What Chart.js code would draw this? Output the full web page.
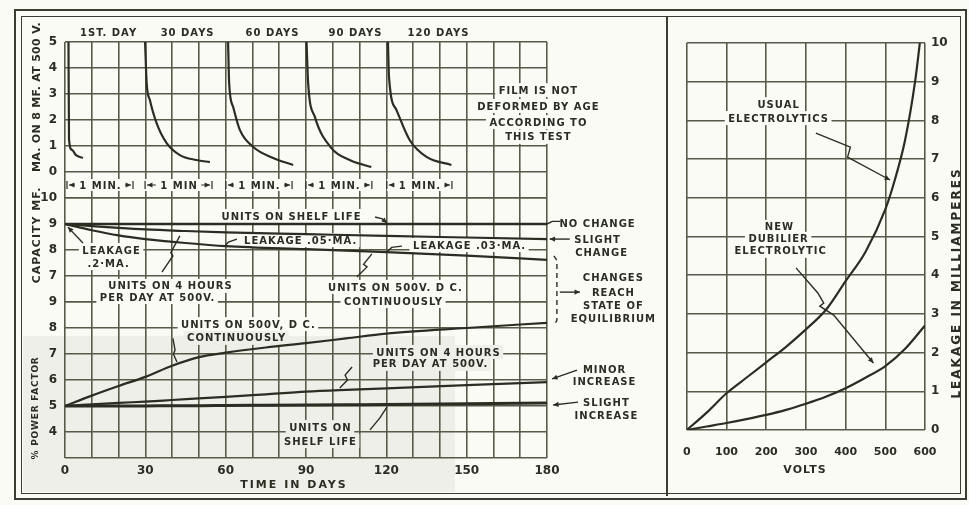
<!DOCTYPE html>
<html>
<head>
<meta charset="utf-8">
<script src="https://cdn.jsdelivr.net/npm/chart.js@4.4.1/dist/chart.umd.min.js"></script>
<style>
  body { margin: 0; background: #fbfbf6; }
  #wrap { position: relative; width: 969px; height: 505px; overflow: hidden; }
  canvas { position: absolute; top: 0; }
  #left { left: 0; }
  #right { left: 667px; }
  .rule { position: absolute; border: 0 solid #3b3d30; }
</style>
</head>
<body>
<div id="wrap">
  <div class="rule" style="left:14px;top:9px;width:949px;height:487px;border-width:2px;"></div>
  <div class="rule" style="left:21px;top:16px;width:938px;height:476px;border-width:1px;"></div>
  <div class="rule" style="left:666px;top:16px;height:480px;border-left-width:2px;"></div>
  <canvas id="left" width="667" height="505"></canvas>
  <canvas id="right" width="302" height="505"></canvas>
</div>
<script>
const ink = '#2b2d22';
const gridInk = '#585b49';
const paper = '#fbfbf6';
const shade = '#efefe9';

// leakage after switching on, one curve per test date (days / mA)
const leak1X = [1.3, 1.5, 2.6, 4.1, 6.7];
const leak1Y = [5, 1.25, 0.85, 0.65, 0.54];
const leak30X = [29.9, 30.5, 31.7, 34.2, 37.9, 42.9, 49.1, 54.1];
const leak30Y = [5, 3.42, 2.77, 1.88, 1.12, 0.65, 0.46, 0.38];
const leak60X = [60.9, 61.3, 62.8, 65.3, 70.3, 77.7, 85.2];
const leak60Y = [5, 3.42, 2.5, 1.62, 0.96, 0.54, 0.27];
const leak90X = [90.2, 90.8, 93.3, 99.5, 106.3, 114.4];
const leak90Y = [5, 3.42, 2.12, 0.92, 0.46, 0.19];
const leak120X = [120.6, 121.0, 123.8, 128.7, 135.0, 144.3];
const leak120Y = [5, 3.65, 2.38, 1.23, 0.58, 0.27];

// capacity (mF)
const capDays = [0, 5, 10, 20, 30, 45, 60, 90, 120, 150, 180];
const capShelf = [9, 9, 9, 9, 9, 9, 9, 9, 9, 9, 9];
const capFourHours = [9, 8.96, 8.92, 8.85, 8.79, 8.73, 8.68, 8.61, 8.54, 8.48, 8.42];
const capContinuous = [9, 8.88, 8.76, 8.56, 8.42, 8.27, 8.15, 8.03, 7.92, 7.78, 7.62];

// power factor (%)
const pfDays = [0, 10, 20, 30, 40, 50, 60, 75, 90, 105, 120, 150, 180];
const pfContinuous = [5, 5.4, 5.77, 6.12, 6.55, 6.88, 7.05, 7.25, 7.42, 7.6, 7.78, 8.0, 8.2];
const pfFourHours = [5, 5.06, 5.12, 5.17, 5.23, 5.29, 5.35, 5.45, 5.55, 5.62, 5.68, 5.8, 5.92];
const pfShelf = [5, 5, 5, 5, 5.01, 5.01, 5.02, 5.03, 5.04, 5.05, 5.06, 5.09, 5.12];

// leakage against voltage
const usualVolts = [0, 50, 100, 150, 200, 250, 300, 350, 400, 450, 500, 525, 550, 575, 587];
const usualLeak = [0, 0.45, 0.95, 1.35, 1.75, 2.15, 2.6, 3.1, 3.85, 4.6, 5.7, 6.5, 7.5, 9.0, 10];
const dubilierVolts = [0, 50, 100, 150, 200, 250, 300, 350, 400, 450, 500, 550, 600];
const dubilierLeak = [0, 0.09, 0.18, 0.28, 0.39, 0.52, 0.68, 0.86, 1.08, 1.35, 1.65, 2.1, 2.7];

// annotations: text, x, y, axis
const leftNotes = [
  ['1ST. DAY', 16.1, 5.38, 'yLeak'], ['30 DAYS', 45.6, 5.38, 'yLeak'], ['60 DAYS', 77.3, 5.38, 'yLeak'],
  ['90 DAYS', 108.3, 5.38, 'yLeak'], ['120 DAYS', 139.3, 5.38, 'yLeak'],
  ['FILM IS NOT', 176.6, 3.15, 'yLeak'], ['DEFORMED BY AGE', 176.6, 2.54, 'yLeak'],
  ['ACCORDING TO', 176.6, 1.92, 'yLeak'], ['THIS TEST', 176.6, 1.35, 'yLeak'],
  ['UNITS ON SHELF LIFE', 84.4, 9.31, 'yCap'],
  ['LEAKAGE .05·MA.', 87.8, 8.38, 'yCap'],
  ['LEAKAGE .03·MA.', 150.9, 8.19, 'yCap'],
  ['LEAKAGE', 17.2, 8.0, 'yCap'], ['.2·MA.', 16.1, 7.5, 'yCap'],
  ['UNITS ON 4 HOURS', 39.2, 6.62, 'yCap'], ['PER DAY AT 500V.', 34.4, 6.19, 'yCap'],
  ['UNITS ON 500V. D C.', 123.2, 6.58, 'yCap'], ['CONTINUOUSLY', 122.5, 6.04, 'yCap'],
  ['NO CHANGE', 198.7, 9.04, 'yCap'],
  ['SLIGHT', 198.7, 8.42, 'yCap'], ['CHANGE', 200.2, 7.92, 'yCap'],
  ['CHANGES', 204.6, 6.96, 'yCap'], ['REACH', 204.6, 6.38, 'yCap'],
  ['STATE OF', 204.6, 5.88, 'yCap'], ['EQUILIBRIUM', 204.6, 5.38, 'yCap'],
  ['UNITS ON 500V, D C.', 68.3, 8.15, 'yPf'], ['CONTINUOUSLY', 63.9, 7.62, 'yPf'],
  ['UNITS ON 4 HOURS', 139.3, 7.08, 'yPf'], ['PER DAY AT 500V.', 136.3, 6.62, 'yPf'],
  ['UNITS ON', 95.2, 4.19, 'yPf'], ['SHELF LIFE', 95.2, 3.65, 'yPf'],
  ['MINOR', 201.3, 6.42, 'yPf'], ['INCREASE', 201.3, 5.96, 'yPf'],
  ['SLIGHT', 202, 5.15, 'yPf'], ['INCREASE', 202, 4.62, 'yPf']
];
const minuteSpans = [[0.75, 25.4, '1 MIN.'], [29.9, 54.9, '1 MIN'], [60.1, 84.8, '1 MIN.'], [90, 114.6, '1 MIN.'], [120.2, 144.5, '1 MIN.']];
const leftLeaders = [
  [[[115.8, 9.27], [118.5, 9.2], [120.2, 9.04]], 'yCap', true],
  [[[64.2, 8.42], [61, 8.3], [59.7, 8.15]], 'yCap', false],
  [[[125.8, 8.15], [122, 8.1], [120.2, 7.92]], 'yCap', false],
  [[[6.7, 8.27], [1.1, 8.88]], 'yCap', true],
  [[[36.2, 7.15], [40.3, 7.77], [39.5, 7.9], [42.9, 8.54]], 'yCap', false],
  [[[109, 6.96], [112.8, 7.35], [111.5, 7.45], [114.6, 7.85]], 'yCap', false],
  [[[180, 9], [182, 9.1], [185, 9.1]], 'yCap', false],
  [[[188.5, 8.42], [181, 8.42]], 'yCap', true],
  [[[184.8, 6.38], [192.3, 6.38]], 'yCap', true],
  [[[40.3, 7.6], [41.1, 7.15], [40.5, 7.0], [41.8, 6.69]], 'yPf', false],
  [[[107.2, 6.5], [104.6, 6.19], [105.5, 6.0], [102.6, 5.69]], 'yPf', false],
  [[[113.9, 4.08], [117.6, 4.54], [120.2, 4.96]], 'yPf', false],
  [[[191.2, 6.38], [181.9, 6.04]], 'yPf', true],
  [[[191.6, 5.15], [182.3, 5.04]], 'yPf', true]
];
const rightNotes = [
  ['USUAL', 230, 8.42, 'y'], ['ELECTROLYTICS', 230, 8.06, 'y'],
  ['NEW', 232, 5.25, 'y'], ['DUBILIER', 230, 4.94, 'y'], ['ELECTROLYTIC', 235, 4.63, 'y']
];
const rightLeaders = [
  [[[325, 7.67], [412, 7.31], [405, 7.05], [512, 6.46]], 'y', true],
  [[[275, 4.19], [330, 3.54], [345, 3.28], [335, 3.2], [370, 2.97], [470, 1.73]], 'y', true]
];

function pts(xs, ys) { return xs.map((x, i) => ({ x, y: ys[i] })); }
function curve(xs, ys, axis, width) {
  return {
    data: pts(xs, ys), yAxisID: axis, showLine: true, borderColor: ink,
    borderWidth: width || 2.2, pointRadius: 0, fill: false, cubicInterpolationMode: 'monotone'
  };
}

function noteFont(ctx) {
  ctx.font = 'bold 10px "DejaVu Sans"';
  ctx.letterSpacing = '1px';
  ctx.textBaseline = 'middle';
  ctx.textAlign = 'center';
}

function drawNotes(chart, notes, shaded) {
  const ctx = chart.ctx;
  ctx.save();
  noteFont(ctx);
  const placed = notes.map(([t, x, y, ax]) => {
    const px = chart.scales.x.getPixelForValue(x);
    const py = chart.scales[ax].getPixelForValue(y);
    return [t, px, py, ctx.measureText(t).width];
  });
  placed.forEach(([t, px, py, w]) => {
    ctx.fillStyle = shaded && shaded(px, py) ? shade : paper;
    ctx.fillRect(px - w / 2 - 3, py - 7, w + 6, 14);
  });
  ctx.fillStyle = ink;
  placed.forEach(([t, px, py]) => ctx.fillText(t, px + 0.5, py + 1));
  ctx.restore();
}

function arrowHead(ctx, x0, y0, x1, y1) {
  const a = Math.atan2(y1 - y0, x1 - x0);
  ctx.beginPath();
  ctx.moveTo(x1, y1);
  ctx.lineTo(x1 - 6 * Math.cos(a - 0.45), y1 - 6 * Math.sin(a - 0.45));
  ctx.lineTo(x1 - 6 * Math.cos(a + 0.45), y1 - 6 * Math.sin(a + 0.45));
  ctx.closePath();
  ctx.fill();
}

function drawLeaders(chart, leaders) {
  const ctx = chart.ctx;
  ctx.save();
  ctx.strokeStyle = ink;
  ctx.fillStyle = ink;
  ctx.lineWidth = 1.4;
  leaders.forEach(([list, ax, arrow]) => {
    const p = list.map(([x, y]) => [chart.scales.x.getPixelForValue(x), chart.scales[ax].getPixelForValue(y)]);
    ctx.beginPath();
    p.forEach(([x, y], i) => i ? ctx.lineTo(x, y) : ctx.moveTo(x, y));
    ctx.stroke();
    if (arrow) {
      const n = p.length;
      arrowHead(ctx, p[n - 2][0], p[n - 2][1], p[n - 1][0], p[n - 1][1]);
    }
  });
  ctx.restore();
}

function title(ctx, text, x, y, size, spacing, rotate) {
  ctx.save();
  ctx.translate(x, y);
  if (rotate) ctx.rotate(-Math.PI / 2);
  ctx.font = 'bold ' + size + 'px "DejaVu Sans"';
  ctx.letterSpacing = spacing + 'px';
  ctx.fillStyle = ink;
  ctx.textAlign = 'center';
  ctx.textBaseline = 'middle';
  ctx.fillText(text, 0, 0);
  ctx.restore();
}

const inShade = (px, py) => px < 455 && py > 336;

const leftPlugin = {
  id: 'leftNotes',
  beforeDraw(chart) {
    const ctx = chart.ctx;
    ctx.save();
    ctx.fillStyle = shade;
    ctx.fillRect(23, 336, 432, 156);
    ctx.restore();
  },
  beforeDatasetsDraw(chart) {
    const ctx = chart.ctx;
    const xs = chart.scales.x;
    const yy = chart.scales.yLeak.getPixelForValue(-0.5);
    ctx.save();
    noteFont(ctx);
    minuteSpans.forEach(([a, b, t]) => {
      const x0 = xs.getPixelForValue(a), x1 = xs.getPixelForValue(b);
      const cx = (x0 + x1) / 2;
      const w = ctx.measureText(t).width;
      ctx.fillStyle = paper;
      ctx.fillRect(x0, yy - 6, x1 - x0, 12);
      ctx.fillStyle = ink;
      ctx.fillText(t, cx + 0.5, yy + 1);
      ctx.strokeStyle = ink;
      ctx.lineWidth = 1.2;
      ctx.beginPath();
      ctx.moveTo(cx - w / 2 - 4, yy); ctx.lineTo(x0 + 2, yy);
      ctx.moveTo(cx + w / 2 + 4, yy); ctx.lineTo(x1 - 2, yy);
      ctx.moveTo(x0, yy - 4); ctx.lineTo(x0, yy + 4);
      ctx.moveTo(x1, yy - 4); ctx.lineTo(x1, yy + 4);
      ctx.stroke();
      arrowHead(ctx, x0 + 10, yy, x0 + 2, yy);
      arrowHead(ctx, x1 - 10, yy, x1 - 2, yy);
    });
    ctx.restore();
    drawNotes(chart, leftNotes, inShade);
  },
  afterDatasetsDraw(chart) {
    drawLeaders(chart, leftLeaders);
    const ctx = chart.ctx;
    const xs = chart.scales.x;
    const cap = chart.scales.yCap;
    ctx.save();
    ctx.strokeStyle = ink;
    ctx.lineWidth = 1.4;
    ctx.setLineDash([5, 4]);
    const bx = xs.getPixelForValue(183.7);
    ctx.beginPath();
    ctx.moveTo(bx - 3, cap.getPixelForValue(7.77));
    ctx.lineTo(bx, cap.getPixelForValue(7.6));
    ctx.lineTo(bx, cap.getPixelForValue(5.3));
    ctx.lineTo(bx - 3, cap.getPixelForValue(5.08));
    ctx.stroke();
    ctx.restore();
    title(ctx, 'MA. ON 8 MF. AT 500 V.', 37, 97, 11, 0.3, true);
    title(ctx, 'CAPACITY MF.', 37, 235, 11, 1, true);
    title(ctx, '% POWER FACTOR', 36, 408, 9, 0.8, true);
    title(ctx, 'TIME IN DAYS', 294, 485, 11, 2, false);
  }
};

const rightPlugin = {
  id: 'rightNotes',
  beforeDatasetsDraw(chart) { drawNotes(chart, rightNotes); },
  afterDatasetsDraw(chart) {
    drawLeaders(chart, rightLeaders);
    const ctx = chart.ctx;
    title(ctx, 'VOLTS', 138, 470, 11, 1, false);
    title(ctx, 'LEAKAGE IN MILLIAMPERES', 290, 283, 12, 2, true);
  }
};

const tickFont = { family: '"DejaVu Sans"', size: 12, weight: 'bold' };
const gridOpts = { color: gridInk, lineWidth: 1.6, drawTicks: false };

function yAxis(min, max, weight, hide) {
  return {
    type: 'linear', position: 'left', stack: 'left', stackWeight: weight,
    min, max, grid: gridOpts, border: { display: false },
    ticks: {
      stepSize: 1, autoSkip: false, color: ink, font: tickFont, padding: 8,
      callback: v => (v === hide ? '' : v)
    },
    afterFit: s => { s.width = 45; }
  };
}

new Chart(document.getElementById('left'), {
  type: 'scatter',
  data: {
    datasets: [
      curve(leak1X, leak1Y, 'yLeak'),
      curve(leak30X, leak30Y, 'yLeak'),
      curve(leak60X, leak60Y, 'yLeak'),
      curve(leak90X, leak90Y, 'yLeak'),
      curve(leak120X, leak120Y, 'yLeak'),
      curve(capDays, capShelf, 'yCap', 2.4),
      curve(capDays, capFourHours, 'yCap'),
      curve(capDays, capContinuous, 'yCap'),
      curve(pfDays, pfContinuous, 'yPf'),
      curve(pfDays, pfFourHours, 'yPf'),
      curve(pfDays, pfShelf, 'yPf', 3)
    ]
  },
  options: {
    responsive: false,
    animation: false,
    layout: { padding: { top: 42, right: 120, left: 20, bottom: 0 } },
    plugins: { legend: { display: false }, tooltip: { enabled: false } },
    scales: {
      x: {
        type: 'linear', min: 0, max: 180,
        grid: gridOpts, border: { display: false },
        ticks: {
          stepSize: 10, autoSkip: false, maxRotation: 0, color: ink, font: tickFont, padding: 6,
          callback: v => (v % 30 === 0 ? v : '')
        },
        afterFit: s => { s.height = 47; }
      },
      yPf: yAxis(3, 9, 6, 3),
      yCap: yAxis(6, 10, 4, 6),
      yLeak: yAxis(-1, 5, 6, -1)
    }
  },
  plugins: [leftPlugin]
});

new Chart(document.getElementById('right'), {
  type: 'scatter',
  data: {
    datasets: [
      curve(usualVolts, usualLeak, 'y'),
      curve(dubilierVolts, dubilierLeak, 'y')
    ]
  },
  options: {
    responsive: false,
    animation: false,
    layout: { padding: { top: 43, right: 0, left: 18, bottom: 0 } },
    plugins: { legend: { display: false }, tooltip: { enabled: false } },
    scales: {
      x: {
        type: 'linear', min: 0, max: 600,
        grid: gridOpts, border: { display: false },
        ticks: {
          stepSize: 100, autoSkip: false, maxRotation: 0, color: ink, padding: 16,
          font: { family: '"DejaVu Sans"', size: 11, weight: 'bold' }
        },
        afterFit: s => { s.height = 75; }
      },
      y: {
        type: 'linear', position: 'right', min: 0, max: 10,
        grid: gridOpts, border: { display: false },
        ticks: { stepSize: 1, autoSkip: false, color: ink, font: tickFont, padding: 6 },
        afterFit: s => { s.width = 44; }
      }
    }
  },
  plugins: [rightPlugin]
});
</script>
</body>
</html>
